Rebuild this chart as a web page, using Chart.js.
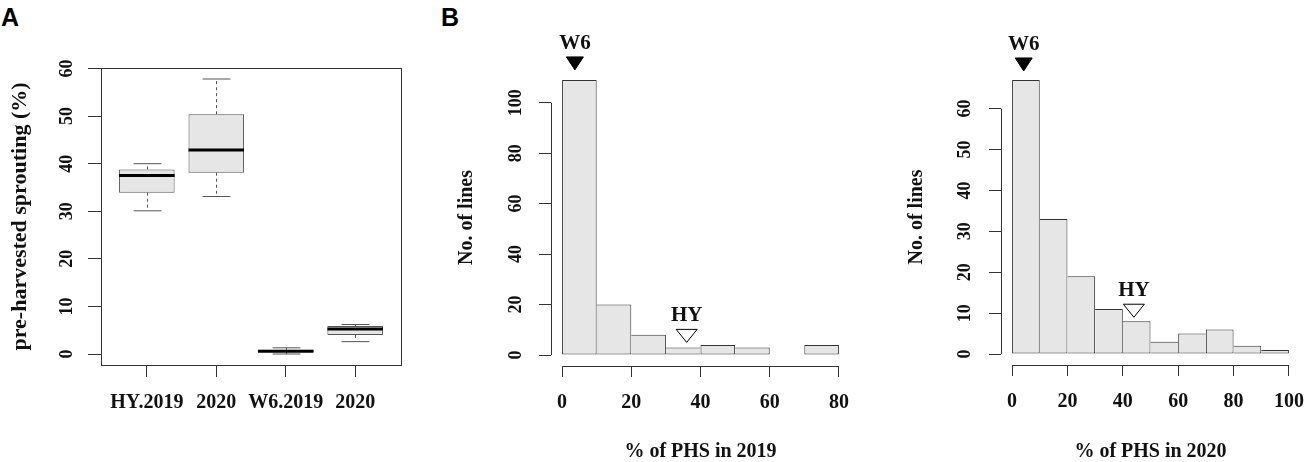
<!DOCTYPE html>
<html>
<head>
<meta charset="utf-8">
<script src="https://cdn.jsdelivr.net/npm/chart.js@4.4.1/dist/chart.umd.min.js"></script>
<style>
  body { margin: 0; background: #fff; }
  #fig { position: relative; width: 1305px; height: 462px; overflow: hidden; }
  #fig canvas { position: absolute; top: 0; }
  .tag { position: absolute; font: bold 25px "Liberation Sans", Arial, sans-serif; color: #000; line-height: 1; }
</style>
</head>
<body>
<div id="fig">
  <div class="tag" style="left:1px;top:5px">A</div>
  <div class="tag" style="left:441px;top:5px">B</div>
  <canvas id="boxA" width="440" height="462" style="left:0"></canvas>
  <canvas id="hist2019" width="440" height="462" style="left:440px"></canvas>
  <canvas id="hist2020" width="445" height="462" style="left:880px"></canvas>
</div>
<script>
// A: pre-harvest sprouting of the two parents
var groups = ["HY.2019", "2020", "W6.2019", "2020"];
var boxMin = [30.1, 33.1, 0.0, 2.6];
var boxQ1  = [33.9, 38.1, 0.4, 4.0];
var boxMed = [37.5, 42.9, 0.6, 5.25];
var boxQ3  = [38.8, 50.4, 0.9, 5.9];
var boxMax = [40.0, 57.8, 1.3, 6.2];
var ticksA = [0, 10, 20, 30, 40, 50, 60];

// B: distribution of PHS among the lines, bins of 10%
var breaks2019 = [0, 10, 20, 30, 40, 50, 60, 70, 80];
var counts2019 = [109, 20, 8, 3, 4, 3, 0, 4];
var xTicks2019 = [0, 20, 40, 60, 80];
var yTicks2019 = [0, 20, 40, 60, 80, 100];

var breaks2020 = [0, 10, 20, 30, 40, 50, 60, 70, 80, 90, 100];
var counts2020 = [67, 33, 19, 11, 8, 3, 5, 6, 2, 1];
var xTicks2020 = [0, 20, 40, 60, 80, 100];
var yTicks2020 = [0, 10, 20, 30, 40, 50, 60];

// parents marked over the histograms
var markLabels = ["W6", "HY"];
var markX2019 = [3.7, 36];
var markY2019 = [113, 5];
var markX2020 = [4.2, 44];
var markY2020 = [69.2, 9];

var SERIF = '"Liberation Serif", "Times New Roman", serif';
var INK = '#111';
var LINE = '#333';
var FILL = '#e6e6e6';

// same padding R puts round the data range
function rLimits(lo, hi) {
  var pad = (hi - lo) * 0.04;
  return [lo - pad, hi + pad];
}

function fixedTicks(values) {
  return function (scale) {
    scale.ticks = values.map(function (v) { return { value: v }; });
  };
}

// rotated y labels, short axis lines or a full frame
var rStyle = {
  id: 'rStyle',
  afterDraw: function (chart, args, opts) {
    var ctx = chart.ctx, x = chart.scales.x, y = chart.scales.y, area = chart.chartArea;
    ctx.save();
    ctx.strokeStyle = LINE;
    ctx.lineWidth = 1;
    if (opts.frame) {
      ctx.strokeRect(Math.round(area.left) + 0.5, Math.round(area.top) + 0.5,
        Math.round(area.right - area.left), Math.round(area.bottom - area.top));
    } else {
      var xl = Math.round(area.left) + 0.5, yb = Math.round(area.bottom) + 0.5;
      ctx.beginPath();
      ctx.moveTo(xl, y.getPixelForValue(y.ticks[0].value));
      ctx.lineTo(xl, y.getPixelForValue(y.ticks[y.ticks.length - 1].value));
      ctx.moveTo(x.getPixelForValue(x.ticks[0].value), yb);
      ctx.lineTo(x.getPixelForValue(x.ticks[x.ticks.length - 1].value), yb);
      ctx.stroke();
    }
    ctx.fillStyle = INK;
    ctx.font = 'bold 18px ' + SERIF;
    ctx.textAlign = 'center';
    ctx.textBaseline = 'middle';
    y.ticks.forEach(function (t) {
      ctx.save();
      ctx.translate(opts.labelX, y.getPixelForValue(t.value));
      ctx.rotate(-Math.PI / 2);
      ctx.fillText(String(t.value), 0, 0);
      ctx.restore();
    });
    ctx.restore();
  }
};

// whiskers, caps and medians on top of the floating bars
var boxParts = {
  id: 'boxParts',
  afterDatasetsDraw: function (chart) {
    var ctx = chart.ctx, y = chart.scales.y;
    var bars = chart.getDatasetMeta(0).data;
    ctx.save();
    bars.forEach(function (bar, i) {
      var cx = Math.round(bar.x) + 0.5, half = bar.width / 2, cap = half / 2;
      ctx.strokeStyle = '#555';
      ctx.lineWidth = 1;
      ctx.setLineDash([3, 3]);
      ctx.beginPath();
      ctx.moveTo(cx, y.getPixelForValue(boxQ3[i]));
      ctx.lineTo(cx, y.getPixelForValue(boxMax[i]));
      ctx.moveTo(cx, y.getPixelForValue(boxQ1[i]));
      ctx.lineTo(cx, y.getPixelForValue(boxMin[i]));
      ctx.stroke();
      ctx.setLineDash([]);
      ctx.beginPath();
      ctx.moveTo(cx - cap, y.getPixelForValue(boxMax[i]));
      ctx.lineTo(cx + cap, y.getPixelForValue(boxMax[i]));
      ctx.moveTo(cx - cap, y.getPixelForValue(boxMin[i]));
      ctx.lineTo(cx + cap, y.getPixelForValue(boxMin[i]));
      ctx.stroke();
      ctx.strokeStyle = '#000';
      ctx.lineWidth = 3;
      ctx.beginPath();
      ctx.moveTo(bar.x - half, y.getPixelForValue(boxMed[i]));
      ctx.lineTo(bar.x + half, y.getPixelForValue(boxMed[i]));
      ctx.stroke();
    });
    ctx.restore();
  }
};

// W6 filled triangle, HY open triangle, name above
var parentMarks = {
  id: 'parentMarks',
  afterDraw: function (chart, args, opts) {
    var ctx = chart.ctx, x = chart.scales.x, y = chart.scales.y;
    ctx.save();
    opts.labels.forEach(function (lab, i) {
      var px = x.getPixelForValue(opts.xs[i]), py = y.getPixelForValue(opts.ys[i]);
      var filled = lab === 'W6';
      var w = filled ? 17 : 21, h = 13;
      ctx.beginPath();
      ctx.moveTo(px, py);
      ctx.lineTo(px - w / 2, py - h);
      ctx.lineTo(px + w / 2, py - h);
      ctx.closePath();
      ctx.lineWidth = 1;
      ctx.strokeStyle = '#000';
      ctx.fillStyle = filled ? '#000' : '#fff';
      ctx.fill();
      ctx.stroke();
      ctx.fillStyle = INK;
      ctx.font = 'bold 21px ' + SERIF;
      ctx.textAlign = 'center';
      ctx.textBaseline = 'alphabetic';
      ctx.fillText(lab, px, py - h - 8);
    });
    ctx.restore();
  }
};

function tickGrid(len) {
  return { display: true, drawOnChartArea: false, drawTicks: true, tickLength: len,
           color: LINE, offset: false };
}

// A
var yA = rLimits(Math.min.apply(null, boxMin), Math.max.apply(null, boxMax));
var xA = rLimits(0.5, groups.length + 0.5);

new Chart(document.getElementById('boxA'), {
  type: 'bar',
  data: {
    datasets: [{
      data: groups.map(function (g, i) { return { x: i + 1, y: [boxQ1[i], boxQ3[i]] }; }),
      backgroundColor: FILL,
      borderColor: '#555',
      borderWidth: 1,
      borderSkipped: false,
      inflateAmount: 0,
      barPercentage: 0.8,
      categoryPercentage: 1
    }]
  },
  options: {
    responsive: false,
    animation: false,
    layout: { padding: { left: 0, top: 68, right: 39, bottom: 0 } },
    plugins: { legend: { display: false }, tooltip: { enabled: false },
               rStyle: { frame: true, labelX: 67 } },
    scales: {
      x: {
        type: 'linear', min: xA[0], max: xA[1], offset: false,
        afterBuildTicks: fixedTicks(groups.map(function (g, i) { return i + 1; })),
        afterFit: function (s) { s.height = 97; },
        border: { display: false },
        grid: tickGrid(12),
        ticks: { autoSkip: false, minRotation: 0, maxRotation: 0, padding: 14, color: INK,
                 font: { family: SERIF, size: 20, weight: 'bold' },
                 callback: function (v, i) { return groups[i]; } }
      },
      y: {
        min: yA[0], max: yA[1],
        afterBuildTicks: fixedTicks(ticksA),
        afterFit: function (s) { s.width = 101; },
        border: { display: false },
        grid: tickGrid(13),
        ticks: { display: false },
        title: { display: true, text: 'pre-harvested sprouting (%)', color: INK,
                 padding: { top: 7, bottom: 0 },
                 font: { family: SERIF, size: 22, weight: 'bold' } }
      }
    }
  },
  plugins: [boxParts, rStyle]
});

// B
function histogram(id, breaks, counts, xTicks, yTicks, markX, markY, year, g) {
  var xl = rLimits(breaks[0], breaks[breaks.length - 1]);
  var yl = rLimits(0, Math.max.apply(null, counts));
  var last = counts.length - 1;
  return new Chart(document.getElementById(id), {
    type: 'bar',
    data: {
      datasets: [{
        data: counts.map(function (c, i) { return { x: (breaks[i] + breaks[i + 1]) / 2, y: c }; }),
        backgroundColor: FILL,
        borderColor: LINE,
        borderSkipped: false,
        inflateAmount: 0,
        // one line between neighbours, drawn by the taller bar
        borderWidth: function (ctx) {
          var i = ctx.dataIndex;
          if (!counts[i]) return 0;
          return { top: 1, bottom: 1,
                   left: (i === 0 || counts[i] > counts[i - 1]) ? 1 : 0,
                   right: (i === last || counts[i] >= counts[i + 1]) ? 1 : 0 };
        },
        barPercentage: 1,
        categoryPercentage: 1
      }]
    },
    options: {
      responsive: false,
      animation: false,
      layout: { padding: { left: 0, top: g.top, right: g.right, bottom: 0 } },
      plugins: { legend: { display: false }, tooltip: { enabled: false },
                 rStyle: { frame: false, labelX: g.labelX },
                 parentMarks: { labels: markLabels, xs: markX, ys: markY } },
      scales: {
        x: {
          type: 'linear', min: xl[0], max: xl[1], offset: false,
          afterBuildTicks: fixedTicks(xTicks),
          afterFit: function (s) { s.height = g.xh; },
          border: { display: false },
          grid: tickGrid(11),
          ticks: { autoSkip: false, minRotation: 0, maxRotation: 0, padding: 14, color: INK,
                   font: { family: SERIF, size: 20, weight: 'bold' } },
          title: { display: true, text: '% of PHS in ' + year, color: INK,
                   padding: { top: 0, bottom: 0 },
                   font: { family: SERIF, size: 20, weight: 'bold', lineHeight: 1 } }
        },
        y: {
          min: yl[0], max: yl[1],
          afterBuildTicks: fixedTicks(yTicks),
          afterFit: function (s) { s.width = g.yw; },
          border: { display: false },
          grid: tickGrid(12),
          ticks: { display: false },
          title: { display: true, text: 'No. of lines', color: INK,
                   padding: { top: g.titlePad, bottom: 0 },
                   font: { family: SERIF, size: 20, weight: 'bold' } }
        }
      }
    },
    plugins: [rStyle, parentMarks]
  });
}

histogram('hist2019', breaks2019, counts2019, xTicks2019, yTicks2019, markX2019, markY2019, 2019,
  { top: 69, right: 30, yw: 111, xh: 96, labelX: 76, titlePad: 15 });
histogram('hist2020', breaks2020, counts2020, xTicks2020, yTicks2020, markX2020, markY2020, 2020,
  { top: 69, right: 25, yw: 121, xh: 97, labelX: 85, titlePad: 25 });
</script>
</body>
</html>
